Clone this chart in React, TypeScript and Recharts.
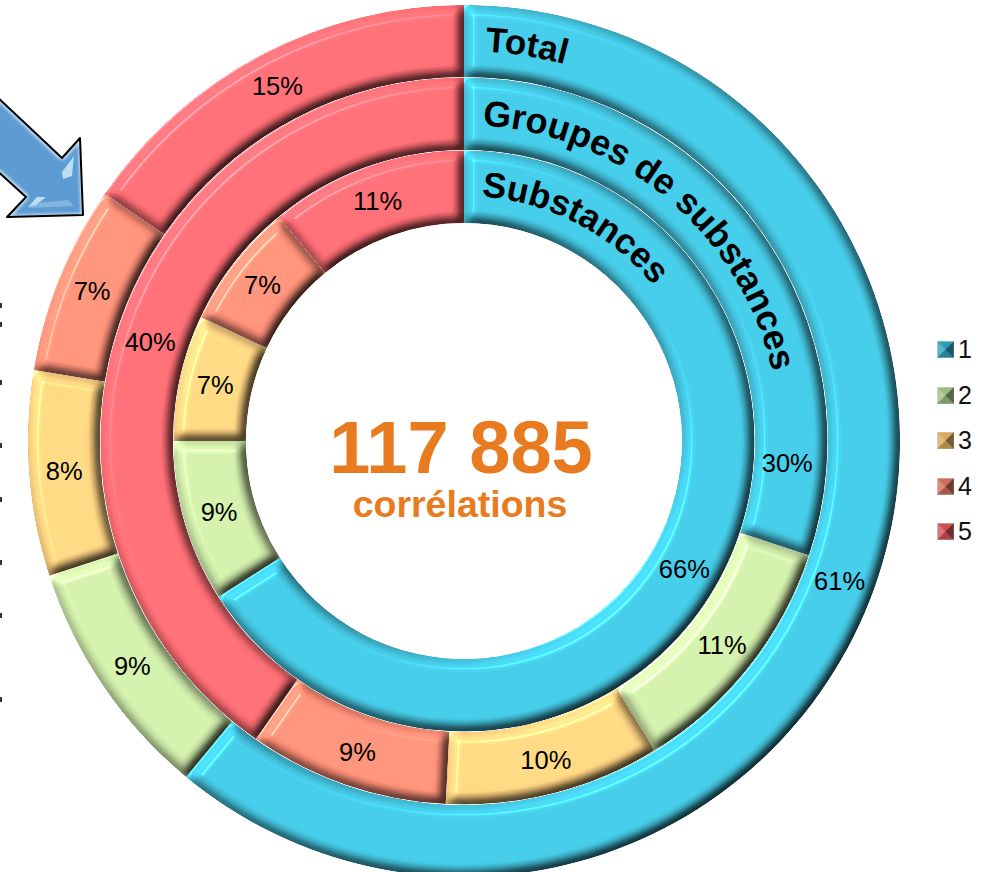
import { Cell, Legend, Pie, PieChart, Sector } from "recharts"

const categories = ["1", "2", "3", "4", "5"]
const totalValues = [61.0, 9.0, 7.6, 7.0, 15.4]
const groupValues = [30.1, 11.1, 9.6, 8.9, 40.3]
const substanceValues = [66, 9, 7, 7, 11]

const colors = ["#44C5E0", "#CBE7A6", "#FDD180", "#FE8F78", "#FE6D74"]
const legendColors = ["#2F9DBA", "#9DBB80", "#D9A85E", "#CC6E58", "#CF4F57"]

const CX = 464
const CY = 441
const FONT = "'Liberation Sans', Arial, sans-serif"

// the 30% label sits next to the slice's end, not in its middle
const groupLabelShift = [39.7, 0, 0, 0, 0]
const groupLabelInset = [5, 0, 0, 0, 0]
const totalLabelShift = [0.7, 0, 0, 0, 0]
const substanceLabelShift = [1.4, 0, 0, 0, 0]
const noInset = [0, 0, 0, 0, 0]

const ringTitles = [
  { id: "arc-total", text: "Total", radius: 390, start: 3.1, size: 35 },
  { id: "arc-groups", text: "Groupes de substances", radius: 316, start: 3.3, size: 36 },
  { id: "arc-subst", text: "Substances", radius: 245, start: 4.1, size: 35.5 },
]

// bits of a rotated caption, cut off by the left side of the picture
const clippedCaption = [303, 322, 380, 443, 497, 560, 613, 697]

const table = (values: number[]) => values.map((value, i) => ({ name: categories[i], value }))

const arcPath = (r: number) => `M ${CX} ${CY - r} A ${r} ${r} 0 0 1 ${CX + r} ${CY}`

const bevelShape = (props: any) => (
  <g filter="url(#bevel)">
    <Sector {...props} />
  </g>
)

const percentLabel = (radius: number, shifts: number[], insets: number[]) => (props: any) => {
  const angle = ((props.midAngle - shifts[props.index]) * Math.PI) / 180
  const r = radius - insets[props.index]
  return (
    <text
      x={CX + r * Math.cos(angle)}
      y={CY - r * Math.sin(angle)}
      textAnchor="middle"
      dominantBaseline="central"
      fontFamily={FONT}
      fontSize={25.5}
      fill="#000"
    >
      {`${Math.round(props.value)}%`}
    </text>
  )
}

const LegendIcon = ({ color }: { color: string }) => (
  <svg width={17} height={17} viewBox="0 0 16 16" style={{ display: "block" }}>
    <rect x={0} y={0} width={16} height={16} fill={color} stroke="#d4d4d4" strokeWidth={1} />
    <polygon points="0,0 8,8 0,16" fill="#fff" opacity={0.22} />
    <polygon points="16,0 8,8 16,16" fill="#000" opacity={0.45} />
    <polygon points="0,16 8,8 16,16" fill="#000" opacity={0.18} />
  </svg>
)

const renderLegend = () => (
  <div style={{ fontFamily: FONT, fontSize: 25, color: "#111" }}>
    {categories.map((name, i) => (
      <div key={name} style={{ display: "flex", alignItems: "center", height: 45.5 }}>
        <LegendIcon color={legendColors[i]} />
        <span style={{ marginLeft: 4 }}>{name}</span>
      </div>
    ))}
  </div>
)

function Ring({ values, inner, outer, labelRadius, shifts, insets }: any) {
  return (
    <Pie
      data={table(values)}
      dataKey="value"
      nameKey="name"
      cx={CX}
      cy={CY}
      innerRadius={inner}
      outerRadius={outer}
      startAngle={90}
      endAngle={-270}
      stroke="none"
      shape={bevelShape}
      label={percentLabel(labelRadius, shifts, insets)}
      labelLine={false}
      isAnimationActive={false}
    >
      {values.map((_: number, i: number) => (
        <Cell key={i} fill={colors[i]} />
      ))}
    </Pie>
  )
}

export default function App() {
  return (
    <div style={{ position: "absolute", left: 0, top: 0, width: 984, height: 872, overflow: "hidden", background: "#fff" }}>
      <PieChart width={984} height={872} margin={{ top: 0, right: 0, bottom: 0, left: 0 }}>
        <defs>
          <filter id="bevel" x="-5%" y="-5%" width="110%" height="110%" colorInterpolationFilters="sRGB">
            <feGaussianBlur in="SourceAlpha" stdDeviation="5.5" result="blur" />
            <feDiffuseLighting in="blur" surfaceScale="7.5" diffuseConstant="1" lightingColor="#fff" result="diff">
              <feDistantLight azimuth="225" elevation="60" />
            </feDiffuseLighting>
            <feComposite in="SourceGraphic" in2="diff" operator="arithmetic" k1="1.155" k2="0" k3="0" k4="0" result="lit" />
            <feMorphology in="SourceAlpha" operator="erode" radius="4" result="thin" />
            <feGaussianBlur in="thin" stdDeviation="2.5" result="thinBlur" />
            <feSpecularLighting in="thinBlur" surfaceScale="8" specularConstant="0.5" specularExponent="40" lightingColor="#fff" result="spec">
              <feDistantLight azimuth="225" elevation="50" />
            </feSpecularLighting>
            <feComposite in="lit" in2="spec" operator="arithmetic" k1="1.1" k2="1" k3="0" k4="0" result="all" />
            <feComposite in="all" in2="SourceAlpha" operator="in" />
          </filter>
          <filter id="arrowFill" x="-10%" y="-10%" width="120%" height="120%" colorInterpolationFilters="sRGB">
            <feMorphology in="SourceGraphic" operator="erode" radius="2" result="core" />
            <feGaussianBlur in="core" stdDeviation="1.5" result="soft" />
            <feFlood floodColor="#C8E0F4" />
            <feComposite in2="SourceAlpha" operator="in" result="rim" />
            <feMerge>
              <feMergeNode in="rim" />
              <feMergeNode in="soft" />
            </feMerge>
          </filter>
        </defs>

        <polygon points="-6,94 62,158 80,138 83,215 7,217 26,197 -6,168" fill="#5E9BD3" filter="url(#arrowFill)" />
        <polygon points="62,172 74,156 72,176 63,179" fill="#CDEBFA" opacity={0.85} />
        <polygon points="28,207 37,197 46,197 36,205" fill="#CDEBFA" opacity={0.85} />
        <polygon points="38,203 68,200 74,206 28,208" fill="#A7D0EE" opacity={0.5} />
        <polygon
          points="-6,94 62,158 80,138 83,215 7,217 26,197 -6,168"
          fill="none"
          stroke="#000"
          strokeWidth={2}
          strokeLinejoin="round"
        />

        {clippedCaption.map((y) => (
          <rect key={y} x={0} y={y} width={2} height={5} fill="#333" />
        ))}

        <Ring values={totalValues} inner={364} outer={436} labelRadius={401} shifts={totalLabelShift} insets={noInset} />
        <Ring values={groupValues} inner={291} outer={363.5} labelRadius={329} shifts={groupLabelShift} insets={groupLabelInset} />
        <Ring values={substanceValues} inner={218} outer={290.5} labelRadius={255} shifts={substanceLabelShift} insets={noInset} />

        <text x={461} y={473} textAnchor="middle" fontFamily={FONT} fontWeight="bold" fontSize={74} fill="#E87B20">
          117 885
        </text>
        <text x={460} y={517} textAnchor="middle" fontFamily={FONT} fontWeight="bold" fontSize={37.5} fill="#E87B20">
          corrélations
        </text>

        <Legend content={renderLegend} wrapperStyle={{ left: 937, top: 327, width: 45, bottom: "auto", right: "auto" }} />
      </PieChart>

      {/* ring titles sit above the sectors, the chart paints its pies last */}
      <svg width={984} height={872} style={{ position: "absolute", left: 0, top: 0, pointerEvents: "none" }}>
        <defs>
          {ringTitles.map((t) => (
            <path key={t.id} id={t.id} d={arcPath(t.radius)} />
          ))}
        </defs>
        {ringTitles.map((t) => (
          <text key={t.id} fontFamily={FONT} fontWeight="bold" fontSize={t.size} fill="#000">
            <textPath href={`#${t.id}`} startOffset={(t.radius * t.start * Math.PI) / 180}>
              {t.text}
            </textPath>
          </text>
        ))}
      </svg>
    </div>
  )
}
